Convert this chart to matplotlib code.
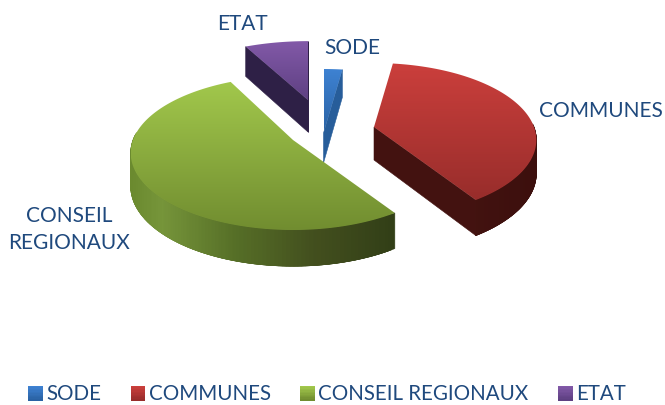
import numpy as np
import matplotlib
matplotlib.use("Agg")
import matplotlib.pyplot as plt
from matplotlib.colors import LinearSegmentedColormap
from matplotlib.legend_handler import HandlerBase
from matplotlib.patches import Patch, Polygon, Rectangle

# Data (percent shares)
categories = ["SODE", "COMMUNES", "CONSEIL REGIONAUX", "ETAT"]
shares = [2.2, 38.6, 51.8, 7.4]
slice_labels = ["SODE", "COMMUNES", "CONSEIL\nREGIONAUX", "ETAT"]

# Styles and layout
TEXT = "#1F497D"
FONT = "Lato"
top_colors = [("#3E82D2", "#2A62A4"), ("#CB3F3C", "#982D2B"),
              ("#A2C84C", "#718D30"), ("#8259A8", "#5E4082")]
wall_stops = [[(0, "#2F6CB0"), (1, "#1F4E85")], [(0, "#4A1613"), (1, "#3C0F0D")],
              [(0, "#6B8A2F"), (0.12, "#76953A"), (0.4, "#566F27"), (0.7, "#434F1E"), (1, "#323F17")],
              [(0, "#33244C"), (1, "#2A1D40")]]
apex = [(323.5, 133), (374, 127), (293, 140), (308, 100)]
y_scale = [1.0, 1.0, 1.0, 0.92]
depth0 = [30, 33, 33, 32]
label_pos = [(352, 48), (601, 111), (69.5, 229.5), (242, 24)]
RX, RY, PERSP = 160, 74.8, 0.169
draw_order = [3, 0, 1, 2]

fig = plt.figure(figsize=(6.65, 4.05), dpi=100, facecolor="white")
ax = fig.add_axes([0, 0, 1, 1])
ax.set_xlim(0, 665)
ax.set_ylim(405, 0)
ax.axis("off")


def project(i, theta):
    u, v = np.cos(theta), np.sin(theta)
    w = 1 + PERSP * v
    x = apex[i][0] + RX * u / w
    y = apex[i][1] - y_scale[i] * RY * v / w
    d = depth0[i] / np.sqrt(w)
    return x, y, d


def quad_area(q):
    x, y = q[:, 0], q[:, 1]
    return 0.5 * np.sum(x * np.roll(y, -1) - np.roll(x, -1) * y)


class GradientSquare(HandlerBase):
    """Legend key with the same top-to-bottom gradient as the slice."""

    def create_artists(self, legend, orig, xd, yd, width, height, fontsize, trans):
        cmap = LinearSegmentedColormap.from_list("k", orig.gradient)
        n = 10
        arts = []
        for k in range(n):
            r = Rectangle((xd * -1, -yd + height * (1 - (k + 1) / n)), width, height / n * 1.15,
                          fc=cmap(k / (n - 1)), ec="none", transform=trans)
            arts.append(r)
        return arts


bounds = 90 - np.concatenate([[0], np.cumsum(shares)]) * 3.6

for i in draw_order:
    t0, t1 = np.radians(bounds[i]), np.radians(bounds[i + 1])
    thetas = np.linspace(t0, t1, 160)
    xs, ys, ds = project(i, thetas)
    ax_, ay_ = apex[i]
    top = np.column_stack([np.r_[ax_, xs], np.r_[ay_, ys]])
    wall_cmap = LinearSegmentedColormap.from_list("w", wall_stops[i])
    xmin, xmax = xs.min(), xs.max()
    d_apex = depth0[i]
    # straight cut walls: only the ones facing the viewer
    for xe, ye, de, sign in ((xs[0], ys[0], ds[0], 1), (xs[-1], ys[-1], ds[-1], -1)):
        q = np.array([(ax_, ay_), (xe, ye), (xe, ye + de), (ax_, ay_ + d_apex)])
        if sign * quad_area(q) < 0:
            c = wall_cmap(0.5)
            ax.add_patch(Polygon(q, closed=True, fc=c, ec=c, lw=0.4, zorder=1))
    # outer wall: overlapping strips so that no seam shows
    for j in range(len(thetas) - 1):
        if np.sin(thetas[j]) < 0.05:
            k = min(j + 3, len(thetas) - 1)
            q = np.array([(xs[j], ys[j]), (xs[k], ys[k]),
                          (xs[k], ys[k] + ds[k]), (xs[j], ys[j] + ds[j])])
            c = wall_cmap((xs[j] - xmin) / max(xmax - xmin, 1))
            ax.add_patch(Polygon(q, closed=True, fc=c, ec=c, lw=0.4, zorder=1))
    # top face with a vertical gradient
    cmap = LinearSegmentedColormap.from_list("t", top_colors[i])
    grad = np.linspace(0, 1, 256).reshape(-1, 1)
    y0, y1 = top[:, 1].min(), top[:, 1].max()
    poly = Polygon(top, closed=True, fc="none", ec="none")
    ax.add_patch(poly)
    im = ax.imshow(grad, cmap=cmap, aspect="auto", origin="upper",
                   extent=(top[:, 0].min(), top[:, 0].max(), y1, y0), zorder=2,
                   interpolation="bilinear")
    im.set_clip_path(poly)

ax.set_xlim(0, 665)
ax.set_ylim(405, 0)

for lab, (lx, ly) in zip(slice_labels, label_pos):
    ax.text(lx, ly, lab, ha="center", va="center", color=TEXT, fontsize=15,
            family=FONT, linespacing=1.42, zorder=5)

handles = []
for c, n in zip(top_colors, categories):
    h = Patch(fc=c[0], ec="none", label=n)
    h.gradient = c
    handles.append(h)
ax.legend(handles=handles, handler_map={Patch: GradientSquare()}, ncols=4, loc="center",
          bbox_to_anchor=(327 / 665, 1 - 394.5 / 405), frameon=False,
          prop={"family": FONT, "size": 14.8}, labelcolor=TEXT,
          handlelength=0.72, handleheight=0.72, handletextpad=0.17, columnspacing=1.42,
          borderpad=0, borderaxespad=0)

fig.savefig("out.png", dpi=100, facecolor="white")
